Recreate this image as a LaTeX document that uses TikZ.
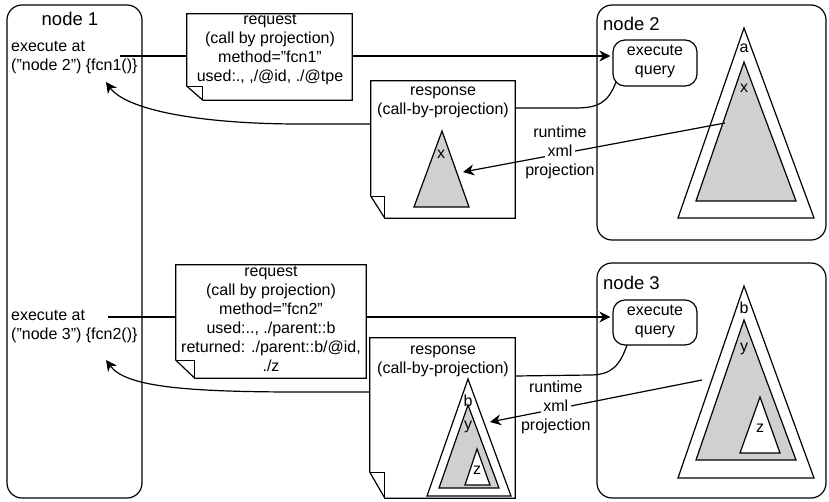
\documentclass[tikz,border=0pt]{standalone}
\usepackage{fontspec}
\setmainfont{Liberation Sans}
\usetikzlibrary{calc,arrows.meta}
\pgfdeclarelayer{back}
\pgfdeclarelayer{mid}
\pgfsetlayers{back,mid,main}
\definecolor{treegray}{RGB}{208,208,208}
\newcommand\notefold[3]{%
  \draw[lw, fill=white] (#1.north west) -- (#1.north east) -- (#1.south east)
    -- ([xshift=#2]#1.south west) -- ([yshift=#3]#1.south west) -- cycle;
  \draw[lw] ([yshift=#3]#1.south west) -- ++(#2,0) -- ([xshift=#2]#1.south west);}
\begin{document}
\begin{tikzpicture}[x=1pt,y=-1pt,
  lw/.style={line width=1.2pt},
  txt/.style={font=\fontsize{16}{19}\selectfont, inner sep=0pt, align=center,
              execute at begin node=\strut, execute at end node=\strut},
  lbl/.style={font=\fontsize{16}{19}\selectfont, inner sep=0pt},
  ttl/.style={font=\fontsize{18.5}{22}\selectfont, inner sep=0pt},
  frame/.style={lw, draw, rounded corners=15pt, inner sep=0pt},
  qbox/.style={lw, draw, rounded corners=12pt, inner sep=0pt, align=center,
               font=\fontsize{16}{19}\selectfont,
               execute at begin node=\strut, execute at end node=\strut},
  hid/.style={draw=none, inner sep=0pt},
  arr/.style={lw, -{Stealth[length=11pt,width=11pt,inset=3.5pt]}},
  tri/.style={lw, fill=white, line join=miter},
  gtri/.style={lw, fill=treegray, line join=miter}
]
\useasboundingbox (0,0) rectangle (829,501);
\begin{pgfonlayer}{back}
  \fill[white] (0,0) rectangle (829,501);
\end{pgfonlayer}

% frames
\node[frame, minimum width=135pt, minimum height=493pt] (n1) at (74.5,251.5) {};
\node[frame, minimum width=229pt, minimum height=235pt] (n2) at (711.5,122.5) {};
\node[frame, minimum width=229pt, minimum height=235pt] (n3) at (711.5,380.5) {};
\node[ttl, anchor=base] (n1t) at (70,25) {node 1};
\node[ttl, anchor=base west] (n2t) at (603,30) {node 2};
\node[ttl, anchor=base west] (n3t) at (603,289) {node 3};

% execute query boxes
\node[qbox, minimum width=84pt, minimum height=46pt] (eq1) at (655,63) {execute\\query};
\node[qbox, minimum width=84pt, minimum height=45pt] (eq3) at (655,322.5) {execute\\query};

% execute-at texts
\node[txt, align=left, anchor=west] (ex1) at (11,58.7) {execute at\\(”node 2”) \{fcn1()\}};
\node[txt, align=left, anchor=west] (ex3) at (11,327.7) {execute at\\(”node 3”) \{fcn2()\}};

% request / response boxes
\node[hid, minimum width=165pt, minimum height=86pt] (req1) at (269.5,57) {};
\node[hid, minimum width=190pt, minimum height=113pt] (req2) at (271,321.5) {};
\node[hid, minimum width=144pt, minimum height=137pt] (resp1) at (443,149.5) {};
\node[hid, minimum width=145pt, minimum height=160pt] (resp2) at (442.5,418) {};
\begin{pgfonlayer}{mid}
  \notefold{req1}{16pt}{14pt}
  \notefold{req2}{19pt}{18pt}
  \notefold{resp1}{14pt}{22pt}
  \notefold{resp2}{15pt}{26pt}
\end{pgfonlayer}
\node[txt] (req1t) at (270,50.7) {request\\(call by projection)\\method=”fcn1”\\used:., ,/@id, ./@tpe};
\node[txt] (req2t) at (271,321.7) {request\\(call by projection)\\method=”fcn2”\\used:.., ./parent::b\\returned: ./parent::b/@id,\\./z};
\node[txt] (resp1t) at (443,103.7) {response\\(call-by-projection)};
\node[txt] (resp2t) at (443,362.7) {response\\(call-by-projection)};

% trees in node 2
\draw[tri] (744,28) -- (678,218) -- (814,218) -- cycle;
\draw[gtri] (744,62) -- (696,201) -- (796,201) -- cycle;
\node[lbl] (a2) at (744,48) {a};
\node[lbl] (x2) at (744,88) {x};
% tree in response 1
\draw[gtri] (442,131) -- (414,207) -- (469,207) -- cycle;
\node[lbl] (xr1) at (441,154) {x};
% trees in node 3
\draw[tri] (744,286) -- (678,478) -- (814,478) -- cycle;
\draw[gtri] (744,320) -- (696,460) -- (796,460) -- cycle;
\draw[tri] (760,397) -- (740,453) -- (780,453) -- cycle;
\node[lbl] (b3) at (744,308) {b};
\node[lbl] (y3) at (744,349) {y};
\node[lbl] (z3) at (760,428) {z};
% trees in response 2
\draw[tri] (468,379) -- (427,496) -- (511,496) -- cycle;
\draw[gtri] (468,405) -- (439,488) -- (499,488) -- cycle;
\draw[tri] (477,449) -- (465,485) -- (490,485) -- cycle;
\node[lbl] (br2) at (468,401) {b};
\node[lbl] (yr2) at (468,427) {y};
\node[lbl] (zr2) at (477,470) {z};

% connector end points
\coordinate (c1out) at (120,56);
\coordinate (c1in) at (106,82);
\coordinate (c3out) at (108,317);
\coordinate (c3in) at (106,360);
\coordinate (r1s) at (616,82);
\coordinate (r3s) at (627,345);
\coordinate (p2s) at (725,123);
\coordinate (p1e) at (463,172);
\coordinate (p3s) at (702,380);
\coordinate (p4e) at (490,422);

\begin{pgfonlayer}{back}
  \draw[arr, shorten >=2pt] (c1out) -- (c1out -| eq1.west);
  \draw[arr, shorten >=2pt] (c3out) -- (c3out -| eq3.west);
  \draw[arr] (r1s) .. controls (608,103) and (598,108) .. (575,108) -- (515,108)
     -- (371,124) -- (300,124) .. controls (200,124) and (126,110) .. (c1in);
  \draw[arr] (r3s) .. controls (620,365) and (612,375) .. (590,375) -- (515,376)
     -- (371,392) -- (300,392) .. controls (180,392) and (125,386) .. (c3in);
\end{pgfonlayer}

% runtime xml projection
{\setlength{\fboxsep}{0pt}
\draw[arr] (p2s) -- node[txt, pos=0.63] (rt1) {runtime\\\colorbox{white}{\strut\,xml\,}\\projection} (p1e);
\draw[arr] (p3s) -- node[txt, pos=0.69] (rt3) {runtime\\\colorbox{white}{\strut\,xml\,}\\projection} (p4e);
}
\end{tikzpicture}
\end{document}
